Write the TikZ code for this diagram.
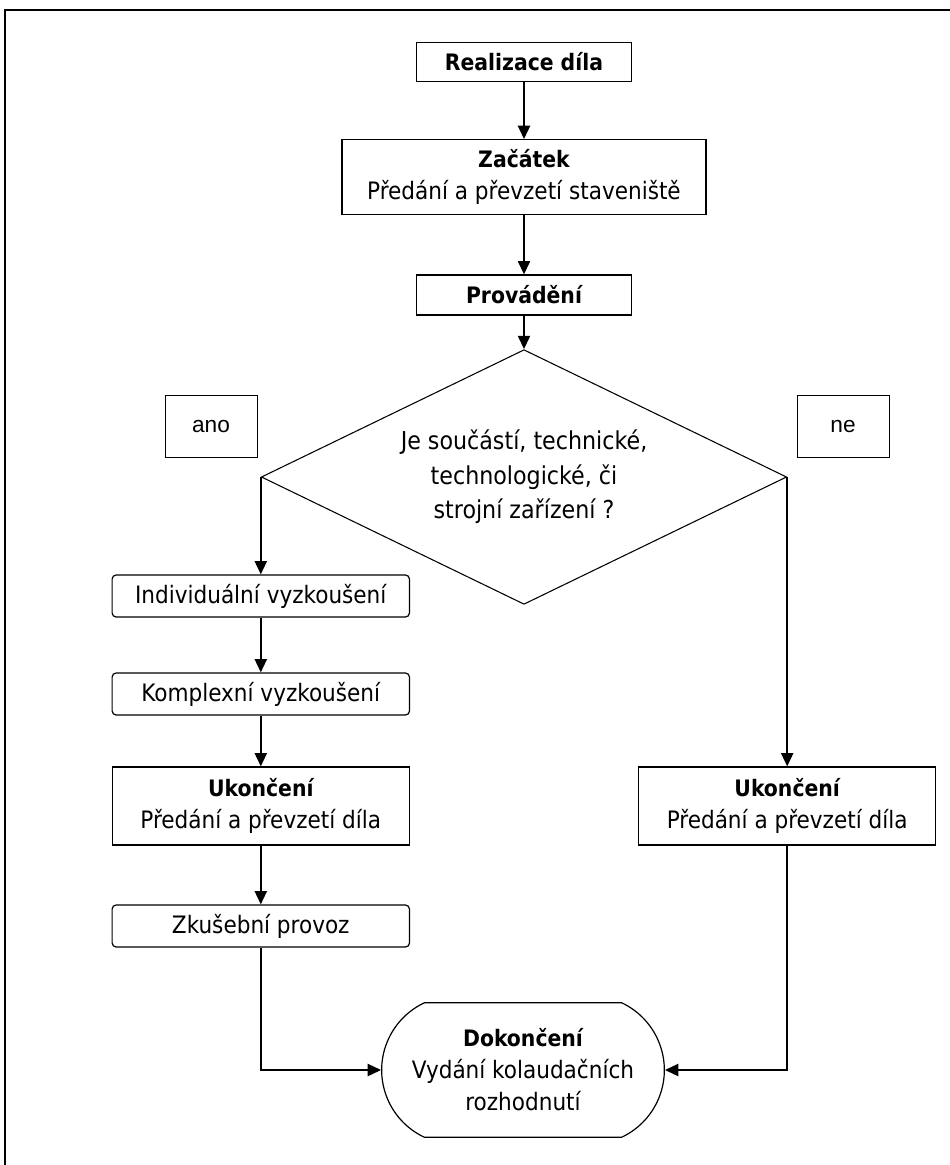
\documentclass[tikz,border=0pt]{standalone}
\usepackage{fontspec}
\setmainfont{DejaVu Sans Condensed}
\newfontfamily\arialfont{Liberation Sans}
\usetikzlibrary{arrows.meta,shapes.geometric,shapes.misc}
\newcommand{\boxhead}[1]{{\fontsize{17}{24}\selectfont\bfseries #1}}
\tikzstyle{block} = [align=center,draw=black,line width=0.9pt,rectangle,text centered,minimum width=223pt,inner sep=0pt]
\tikzstyle{step box} = [block,rounded corners=3pt,minimum height=31.5pt]
\tikzstyle{end box} = [block,minimum height=58.5pt]
\tikzstyle{label box} = [draw=black,line width=0.7pt,rectangle,minimum width=69pt,minimum height=47pt,font=\arialfont\fontsize{17}{20}\selectfont,anchor=center]
\tikzstyle{decision} = [align=center,draw=black,line width=0.8pt,diamond,aspect=2,minimum width=394pt,minimum height=191pt,inner sep=0pt,text centered,font=\fontsize{18.5}{26}\selectfont]
\tikzstyle{finish} = [align=center,draw=black,line width=0.9pt,rounded rectangle,rounded rectangle arc length=130,minimum width=212pt,minimum height=101pt,inner sep=0pt]
\tikzstyle{arr} = [line width=1.6pt,-{Triangle[length=10pt,width=9pt]}]

\begin{document}
\begin{tikzpicture}[x=0.75pt,y=-0.75pt,font=\fontsize{18}{24}\selectfont]
\useasboundingbox (0,0) rectangle (950,1165);
% frame
\draw [line width=1.2pt] (5,1175) -- (5,10) -- (955,10);
% main column
\node (real) [block,minimum width=161pt,minimum height=29pt] at (524,62) {\boxhead{Realizace díla}};
\node (zac) [block,minimum width=273pt,minimum height=56pt,node distance=86.25pt,below of=real] {\boxhead{Začátek}\\Předání a převzetí staveniště};
\node (prov) [block,minimum width=161pt,minimum height=30pt,node distance=88.5pt,below of=zac] {\boxhead{Provádění}};
\node (dec) [decision,node distance=136.5pt,below of=prov] {Je součástí, technické,\\technologické, či\\strojní zařízení ?};
\node (ano) [label box] at (211,426.5) {ano};
\node (ne) [label box] at (843,426.5) {ne};
% left branch
\node (indiv) [step box] at (dec.west |- 0,596) {Individuální vyzkoušení};
\node (kompl) [step box,node distance=73.5pt,below of=indiv] {Komplexní vyzkoušení};
\node (ukl) [end box,node distance=84pt,below of=kompl] {\boxhead{Ukončení}\\Předání a převzetí díla};
\node (zkus) [step box,node distance=90pt,below of=ukl] {Zkušební provoz};
% right branch
\node (ukr) [end box] at (dec.east |- ukl) {\boxhead{Ukončení}\\Předání a převzetí díla};
\node (dok) [finish] at (523,1070) {\boxhead{Dokončení}\\Vydání kolaudačních\\rozhodnutí};
\draw [arr] (real) -- (zac);
\draw [arr] (zac) -- (prov);
\draw [arr] (prov) -- (dec);
\draw [arr] (dec.west) -- (indiv);
\draw [arr] (indiv) -- (kompl);
\draw [arr] (kompl) -- (ukl);
\draw [arr] (ukl) -- (zkus);
\draw [arr] (zkus) |- (dok);
\draw [arr] (dec.east) -- (ukr);
\draw [arr] (ukr) |- (dok);
\end{tikzpicture}
\end{document}
